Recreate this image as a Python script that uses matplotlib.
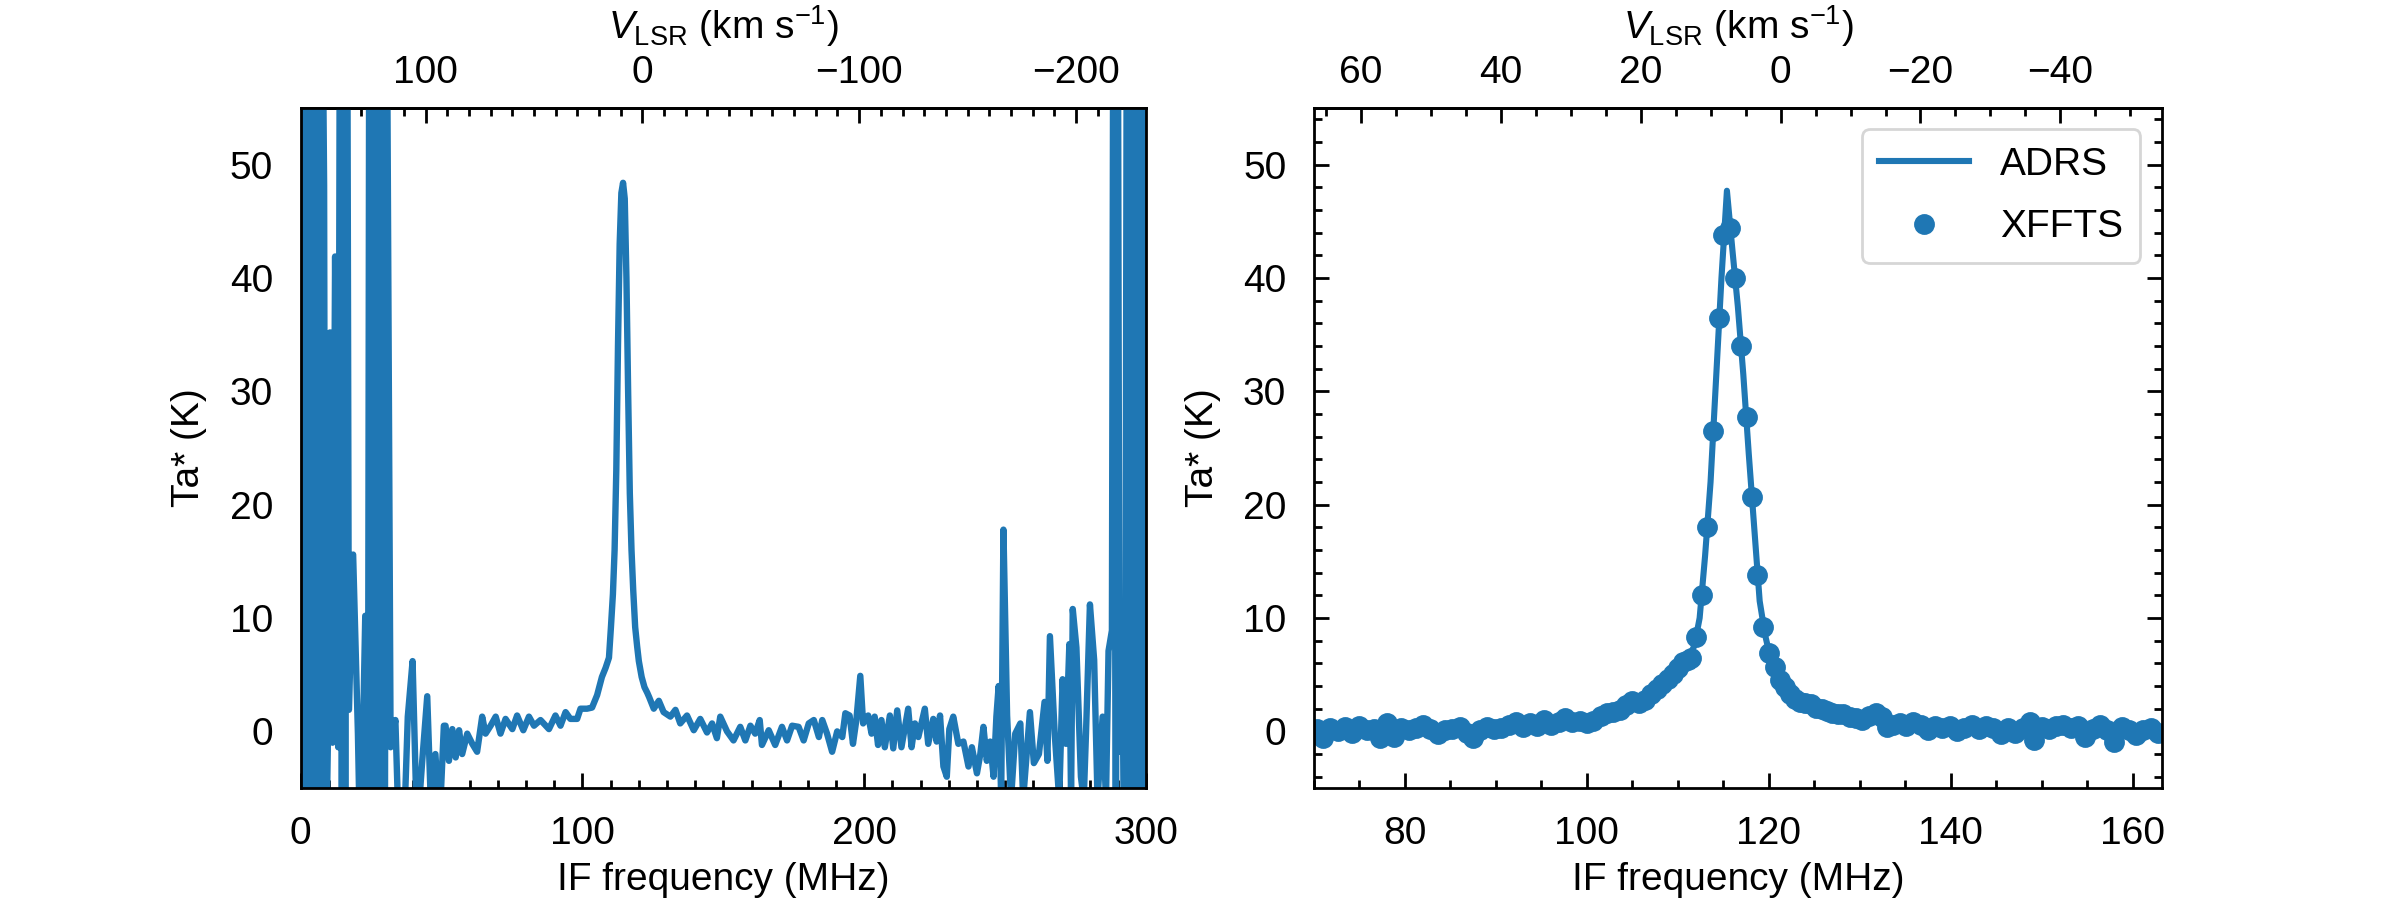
import numpy as np
import matplotlib.pyplot as plt
from matplotlib.ticker import MultipleLocator

plt.rcParams["font.family"] = ["Liberation Sans", "DejaVu Sans"]
plt.rcParams["font.size"] = 14
plt.rcParams["mathtext.fontset"] = "custom"
plt.rcParams["mathtext.rm"] = "Liberation Sans"
plt.rcParams["mathtext.it"] = "Liberation Sans:italic"
plt.rcParams["mathtext.bf"] = "Liberation Sans:bold"

BLUE = "#1f77b4"

# IF frequency of V_LSR = 0 and km/s per MHz (CO 2-1)
F_REST_IF = 121.3
KMS_PER_MHZ = 1.3004

# ---- full ADRS band (left panel), values off the plot are clipped ----
full_freq = [
    0.2, 0.7, 1.2, 1.7, 2.2, 2.7, 3.2, 3.7, 4.1, 4.6, 5.1, 5.6, 6.1, 6.6, 7.1, 7.6,
    8.3, 8.8, 9.6, 10.4, 11.3, 12.2, 13.3, 14.0, 14.6, 15.2, 15.8, 16.4, 17.1, 18.6,
    20.3, 21.2, 22.9, 23.8, 24.4, 25.0, 25.6, 26.2, 26.8, 27.4, 28.0, 28.6, 29.2, 29.8,
    30.5, 31.9, 33.6, 34.8, 36.5, 38.0, 39.7, 41.3, 43.1, 44.9, 46.4, 47.8, 49.3, 50.8,
    51.4, 52.6, 53.8, 55.0, 56.2, 57.3, 59.1, 60.9, 62.6, 64.4, 65.6, 67.4, 69.2, 70.9,
    72.7, 75.1, 76.8, 79.0, 81.0, 82.8, 85.1, 88.1, 90.4, 92.2, 94.0, 95.7, 98.1, 99.3,
    101.6, 103.4, 105.2, 106.9, 108.2, 109.4, 110.1, 110.8, 111.4, 112.0, 112.6, 113.2,
    113.8, 114.4, 115.0, 115.6, 116.2, 116.8, 117.4, 118.0, 118.7, 119.4, 120.0, 121.0,
    122.0, 123.0, 123.7, 125.3, 127.1, 128.8, 131.2, 133.0, 134.7, 137.1, 139.5, 141.8,
    144.2, 146.0, 147.7, 148.9, 151.3, 153.6, 156.0, 157.8, 159.6, 161.3, 162.9, 163.7,
    166.1, 168.4, 170.8, 172.6, 174.4, 176.7, 178.5, 180.3, 182.1, 183.9, 185.1, 186.8,
    188.6, 190.4, 192.2, 193.3, 194.8, 196.0, 197.2, 198.6, 199.6, 201.4, 202.6, 203.7,
    204.9, 206.1, 207.3, 209.1, 210.3, 211.7, 213.2, 215.6, 216.8, 218.0, 219.2, 221.5,
    222.7, 224.5, 225.7, 226.9, 228.1, 229.3, 230.2, 231.6, 233.4, 235.2, 237.0, 238.2,
    240.0, 241.2, 242.3, 243.5, 244.7, 245.9, 246.9, 247.7, 248.6, 249.4, 250.7, 252.1,
    253.6, 255.4, 256.4, 258.8, 260.2, 262.0, 264.0, 265.0, 265.9, 267.6, 269.2, 270.4,
    271.6, 272.8, 273.4, 274.0, 275.3, 276.9, 277.9, 278.7, 280.1, 281.6, 282.8, 284.6,
    285.8, 286.7, 287.9, 288.5, 289.3, 289.9, 290.6, 291.6, 292.5, 293.3, 293.9, 294.5,
    295.1, 295.7, 296.3, 296.9, 297.5, 298.1, 298.7, 299.3, 299.9,
]
full_ta = [
    -20, 80, -20, 80, -20, 80, -15, 60, 4.7, 80, -20, 80, -20, 80, -20, 70,
    48.2, -15, -1.6, 35.2, -1.0, 41.9, -1.4, 80, -20, 80, -20, 80, 1.9, 15.6,
    -0.2, -12, 10.2, -20, 80, -20, 80, -20, 80, -20, 80, -20, 80, -20,
    70, -1.4, 1.0, -9, -10, 1.3, 6.2, -9, -2.7, 3.1, -8, -2.0, -8, 0.5,
    0.5, -2.6, 0.2, -2.3, 0.1, -2.0, -0.2, -1.1, -1.8, 1.3, -0.2, 0.5, 1.3, -0.2,
    1.1, 0.2, 1.4, 0.1, 1.3, 0.5, 1.0, 0.2, 1.4, 0.5, 1.7, 1.1, 1.1, 2.0,
    2.0, 2.1, 3.2, 4.8, 5.6, 6.5, 9.2, 12.1, 16.0, 23.0, 34.0, 43.0,
    47.5, 48.4, 47.0, 40.0, 30.0, 21.0, 16.0, 12.5, 9.2, 7.5, 6.2, 4.8,
    3.9, 3.4, 3.0, 2.0, 2.7, 1.7, 1.3, 1.9, 0.7, 1.4, 0.1, 1.1,
    -0.1, 0.7, -0.6, 1.3, 0.0, -0.8, 0.4, -0.8, 0.5, -0.2, 1.0, -1.2,
    0.1, -1.2, 0.4, -0.8, 0.5, 0.4, -0.8, 0.7, 1.0, -0.5, 1.0, -0.2,
    -1.8, 0.0, -0.5, 1.6, 1.4, -1.1, 1.0, 4.9, 0.7, 1.4, -0.2, 1.3,
    -1.2, 1.0, -1.4, 1.4, -1.5, 1.85, -1.4, 2.0, -1.4, 0.7, -0.5, 2.0,
    -1.1, 1.1, -0.9, 1.4, -3.1, -4.0, 0.2, 1.3, -1.1, -0.9, -3.1, -1.4,
    -3.7, -2.0, 0.4, -2.6, -0.9, -4.0, 1.3, 4.0, -6, 17.8, 1.4, -6,
    -0.2, 0.7, -6, 1.7, -2.8, -2.0, 2.6, -2.6, 8.4, -0.2, -6, 4.6,
    -1.1, 7.7, -6, 10.8, 7.4, -4.0, -6, -0.2, 11.2, 6.3, -6, 1.3,
    -6, 7.1, 8.9, 80, -20, 80, -1.8, 7.6, -20, 80, -20, 80,
    -20, 80, -20, 80, -20, 80, -20, 80, -20,
]

# ---- zoom on the line (right panel) ----
adrs_freq = [
    70.0, 71.0, 72.0, 73.0, 74.0, 75.0, 76.0, 77.0, 78.0, 79.0, 80.0, 81.0, 82.0,
    83.0, 84.0, 85.0, 86.0, 87.0, 88.0, 89.0, 90.0, 91.0, 92.0, 93.0, 94.0, 95.0,
    96.0, 97.0, 98.0, 99.0, 100.0, 101.0, 102.0, 103.0, 104.0, 105.0, 106.0, 107.0,
    108.0, 109.0, 110.0, 111.0, 111.8, 112.4, 113.0, 113.6, 114.2, 114.8, 115.4,
    116.0, 116.6, 117.2, 117.8, 118.4, 119.0, 119.6, 120.2, 120.8, 121.4, 122.0,
    123.0, 124.0, 125.0, 126.0, 127.0, 128.0, 129.0, 130.0, 131.0, 132.0, 133.0,
    134.0, 135.0, 136.0, 137.0, 138.0, 139.0, 140.0, 141.0, 142.0, 143.0, 144.0,
    145.0, 146.0, 147.0, 148.0, 149.0, 150.0, 151.0, 152.0, 153.0, 154.0, 155.0,
    156.0, 157.0, 158.0, 159.0, 160.0, 161.0, 162.0, 163.2,
]
adrs_ta = [
    0.3, -0.3, 0.2, 0.1, 0.3, 0.0, 0.3, -0.2, 0.4, -0.1, 0.2, 0.3, 0.4,
    0.0, 0.2, 0.3, 0.2, -0.2, 0.3, 0.3, 0.4, 0.5, 0.6, 0.6, 0.7, 0.8,
    0.8, 0.9, 1.0, 0.9, 1.0, 1.2, 1.5, 1.8, 2.1, 2.5, 2.7, 3.2,
    3.9, 4.7, 5.5, 6.3, 7.5, 10.0, 15.5, 22.0, 31.0, 40.0, 47.7,
    42.5, 37.5, 31.5, 24.5, 18.0, 11.5, 8.5, 6.4, 5.2, 4.3, 3.6,
    3.0, 2.5, 2.2, 1.9, 1.6, 1.4, 1.3, 1.1, 1.3, 1.2, 0.6,
    0.7, 0.6, 0.7, 0.4, 0.3, 0.4, 0.3, 0.1, 0.4, 0.3, 0.4,
    0.1, 0.2, 0.0, 0.4, -0.4, 0.3, 0.4, 0.5, 0.3, 0.2, -0.3,
    0.4, 0.1, -0.6, 0.3, -0.1, 0.1, 0.2, 0.0,
]

xffts_freq = [
    70.3, 71.0, 71.8, 72.6, 73.4, 74.2, 75.0, 75.8, 76.6, 77.3, 78.0, 78.8, 79.6,
    80.4, 81.2, 82.0, 82.8, 83.6, 84.4, 85.2, 86.0, 86.8, 87.5, 88.3, 89.0, 89.8,
    90.6, 91.4, 92.2, 93.0, 93.7, 94.5, 95.3, 96.1, 96.9, 97.6, 98.4, 99.2, 100.0,
    100.7, 101.5, 102.2, 102.9, 103.6, 104.3, 105.0, 105.7, 106.4, 107.1, 107.7,
    108.3, 108.9, 109.5, 110.0, 110.6, 111.1, 111.5, 112.0, 112.7, 113.2, 113.9,
    114.5, 115.0, 115.7, 116.3, 117.0, 117.6, 118.2, 118.7, 119.4, 120.0, 120.7,
    121.2, 121.8, 122.3, 122.9, 123.4, 124.0, 124.6, 125.2, 125.8, 126.4, 127.0,
    127.6, 128.2, 128.9, 129.6, 130.3, 131.0, 131.8, 132.5, 133.0, 133.7, 134.4,
    135.1, 135.9, 136.7, 137.5, 138.3, 139.1, 139.9, 140.7, 141.5, 142.3, 143.1,
    143.9, 144.7, 145.5, 146.3, 147.1, 147.9, 148.7, 149.2, 150.0, 150.8, 151.6,
    152.4, 153.2, 154.0, 154.8, 155.6, 156.4, 157.2, 158.0, 158.8, 159.6, 160.4,
    161.2, 162.0, 162.8,
]
xffts_ta = [
    0.2, -0.6, 0.3, 0.0, 0.4, -0.1, 0.5, 0.1, 0.2, -0.6, 0.7, -0.5, 0.3,
    0.1, 0.3, 0.6, 0.2, -0.2, 0.1, 0.2, 0.4, -0.1, -0.6, 0.1, 0.4, 0.2,
    0.3, 0.6, 0.8, 0.4, 0.7, 0.5, 1.0, 0.6, 0.8, 1.2, 0.8, 0.9, 0.7,
    0.9, 1.4, 1.6, 1.7, 1.9, 2.3, 2.7, 2.5, 2.8, 3.3, 3.7,
    4.2, 4.6, 5.1, 5.6, 6.1, 6.3, 6.5, 8.3, 12.0, 18.0, 26.5,
    36.5, 43.8, 44.4, 40.0, 34.0, 27.7, 20.7, 13.8, 9.2, 6.9, 5.7,
    4.5, 3.9, 3.3, 2.9, 2.6, 2.5, 2.4, 2.1, 2.0, 1.8, 1.6,
    1.5, 1.5, 1.3, 1.2, 1.0, 1.4, 1.6, 1.3, 0.4, 0.6, 0.7,
    0.5, 0.8, 0.6, 0.1, 0.5, 0.3, 0.5, 0.0, 0.3, 0.6, 0.2,
    0.5, 0.3, -0.2, 0.3, -0.1, 0.3, 0.8, -0.8, 0.4, 0.2, 0.5,
    0.6, 0.3, 0.5, -0.5, 0.2, 0.6, 0.1, -0.9, 0.4, 0.1, -0.3,
    0.1, 0.3, -0.1,
]


def if_to_vlsr(f):
    return (F_REST_IF - np.asarray(f)) * KMS_PER_MHZ


def vlsr_to_if(v):
    return F_REST_IF - np.asarray(v) / KMS_PER_MHZ


fig = plt.figure(figsize=(12, 4.5), dpi=200)
ax1 = fig.add_axes([0.1253, 0.1244, 0.3522, 0.7556])
ax2 = fig.add_axes([0.5475, 0.1244, 0.3532, 0.7556])

ax1.plot(full_freq, full_ta, color=BLUE, lw=2.3)
ax1.set_xlim(0, 300)

ax2.plot(adrs_freq, adrs_ta, color=BLUE, lw=2.2, label="ADRS")
ax2.plot(xffts_freq, xffts_ta, "o", color=BLUE, ms=6.5, label="XFFTS")
ax2.set_xlim(70, 163.2)
ax2.legend(loc="upper right", handlelength=2.3, labelspacing=0.68,
           borderpad=0.45, borderaxespad=0.55)

panels = [(ax1, 100, 10, 100, 10), (ax2, 20, 5, 20, 5)]
for ax, fmaj, fmin, vmaj, vmin in panels:
    ax.set_ylim(-5, 55)
    ax.xaxis.set_major_locator(MultipleLocator(fmaj))
    ax.xaxis.set_minor_locator(MultipleLocator(fmin))
    ax.yaxis.set_major_locator(MultipleLocator(10))
    ax.yaxis.set_minor_locator(MultipleLocator(2))
    ax.tick_params(which="both", direction="in", top=False, right=True, width=1)
    ax.tick_params(which="major", length=5.4, pad=10)
    ax.tick_params(which="minor", length=3)
    ax.set_xlabel("IF frequency (MHz)", labelpad=3.5)
    ax.set_ylabel("Ta* (K)", labelpad=8)
    for sp in ax.spines.values():
        sp.set_linewidth(1)

    sec = ax.secondary_xaxis("top", functions=(if_to_vlsr, vlsr_to_if))
    sec.xaxis.set_major_locator(MultipleLocator(vmaj))
    sec.xaxis.set_minor_locator(MultipleLocator(vmin))
    sec.tick_params(which="both", direction="in", width=1)
    sec.tick_params(which="major", length=5.4, pad=6)
    sec.tick_params(which="minor", length=3)
    sec.set_xlabel(r"$V_{\rm LSR}$ (km s$^{-1}$)", labelpad=6)
    sec.spines["top"].set_linewidth(1)

fig.savefig("out.png", dpi=200)
